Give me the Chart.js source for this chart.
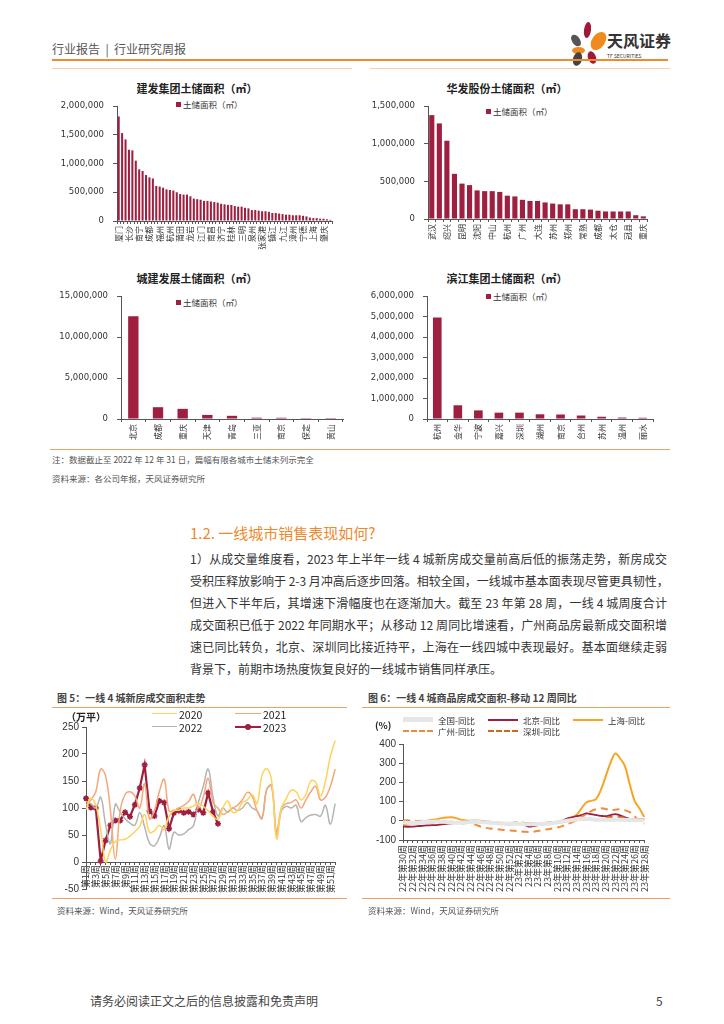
<!DOCTYPE html>
<html><head><meta charset="utf-8">
<script src="https://cdn.jsdelivr.net/npm/chart.js@4.4.1/dist/chart.umd.min.js"></script>
<style>
body{margin:0;width:724px;height:1024px;position:relative;background:#fff;font-family:"Noto Sans CJK SC",sans-serif;overflow:hidden;color:#333}
.a{position:absolute;white-space:nowrap}
.c{transform:translate(-50%,-50%)}
.l{transform:translateY(-50%)}
.box{position:absolute}
.hr{position:absolute;height:0}
.ct{font-size:11px;font-weight:bold;color:#222}
.lg{font-size:8.5px;color:#333}
.sq{display:inline-block;width:5px;height:5px;background:#9e1f3f;margin-right:2px;vertical-align:1px}
.para{position:absolute;left:190px;width:477px;font-size:12px;color:#333;text-align:justify;text-align-last:justify;white-space:nowrap}
.sw{position:absolute}
.lt{font-size:10.5px;color:#222}
</style>
</head><body>

<!-- header -->
<div class="a l" style="left:52px;top:48px;font-size:12px;color:#555">行业报告 &nbsp;|&nbsp; 行业研究周报</div>
<div class="a" style="left:584px;top:22px;width:7px;height:16px;border-radius:50%;background:#a0173a;transform:rotate(8deg)"></div>
<div class="a" style="left:592px;top:31px;width:13px;height:20px;border-radius:50%;background:#f08a1c;transform:rotate(35deg)"></div>
<div class="a" style="left:572px;top:34px;width:8px;height:13px;border-radius:50%;background:#555;transform:rotate(-35deg)"></div>
<div class="a" style="left:572px;top:47px;width:13px;height:7px;border-radius:50%;background:#f08a1c"></div>
<div class="a" style="left:573px;top:52px;width:9px;height:14px;border-radius:50%;background:#444;transform:rotate(15deg)"></div>
<div class="a" style="left:588px;top:51px;width:8px;height:13px;border-radius:50%;background:#a0173a;transform:rotate(-20deg)"></div>
<div class="a l" style="left:607px;top:40px;font-size:16px;font-weight:bold;color:#333">天风证券</div>
<div class="a l" style="left:607px;top:55px;font-size:5px;color:#333">TF SECURITIES</div>
<div class="hr" style="left:52px;top:59px;width:616px;border-top:2px solid #f08a2c"></div>
<div class="hr" style="left:52px;top:68px;width:300px;border-top:1px solid #f8cfae"></div>
<div class="hr" style="left:370px;top:68px;width:300px;border-top:1px solid #f8cfae"></div>

<!-- four bar charts -->
<div class="a c ct" style="left:197px;top:88px">建发集团土储面积（㎡）</div>
<div class="a l lg" style="left:176px;top:104px"><span class="sq"></span>土储面积（㎡）</div>
<div class="box" style="left:50px;top:92px;width:292px;height:168px"><canvas id="c1"></canvas></div>

<div class="a c ct" style="left:507px;top:88px">华发股份土储面积（㎡）</div>
<div class="a l lg" style="left:486px;top:111px"><span class="sq"></span>土储面积（㎡）</div>
<div class="box" style="left:360px;top:92px;width:295px;height:168px"><canvas id="c2"></canvas></div>

<div class="a c ct" style="left:197px;top:278px">城建发展土储面积（㎡）</div>
<div class="a l lg" style="left:176px;top:302px"><span class="sq"></span>土储面积（㎡）</div>
<div class="box" style="left:50px;top:282px;width:295px;height:162px"><canvas id="c3"></canvas></div>

<div class="a c ct" style="left:507px;top:278px">滨江集团土储面积（㎡）</div>
<div class="a l lg" style="left:486px;top:296px"><span class="sq"></span>土储面积（㎡）</div>
<div class="box" style="left:360px;top:282px;width:295px;height:162px"><canvas id="c4"></canvas></div>

<div class="hr" style="left:50px;top:449px;width:620px;border-top:1px solid #f0a060"></div>
<div class="a l" style="left:52px;top:459px;font-size:8.5px;color:#555">注：数据截止至 2022 年 12 年 31 日，篇幅有限各城市土储未列示完全</div>
<div class="a l" style="left:52px;top:478px;font-size:8.5px;color:#555">资料来源：各公司年报，天风证券研究所</div>

<!-- text -->
<div class="a l" style="left:190px;top:532px;font-size:15px;color:#f0892c">1.2. 一线城市销售表现如何?</div>
<div class="para l" style="top:558px">1）从成交量维度看，2023 年上半年一线 4 城新房成交量前高后低的振荡走势，新房成交</div>
<div class="para l" style="top:580px">受积压释放影响于 2-3 月冲高后逐步回落。相较全国，一线城市基本面表现尽管更具韧性，</div>
<div class="para l" style="top:602px">但进入下半年后，其增速下滑幅度也在逐渐加大。截至 23 年第 28 周，一线 4 城周度合计</div>
<div class="para l" style="top:624px">成交面积已低于 2022 年同期水平；从移动 12 周同比增速看，广州商品房最新成交面积增</div>
<div class="para l" style="top:646px">速已同比转负，北京、深圳同比接近持平，上海在一线四城中表现最好。基本面继续走弱</div>
<div class="para l" style="top:668px;text-align-last:left">背景下，前期市场热度恢复良好的一线城市销售同样承压。</div>

<!-- figure 5 -->
<div class="a l" style="left:57px;top:697px;font-size:10px;font-weight:bold;color:#444">图 5：一线 4 城新房成交面积走势</div>
<div class="hr" style="left:52px;top:707px;width:295px;border-top:1.5px solid #f0a060"></div>
<div class="box" style="left:50px;top:718px;width:297px;height:180px"><canvas id="c5"></canvas></div>
<div class="a l" style="left:66px;top:716px;font-size:10px;font-weight:bold;color:#222">（万平）</div>
<div class="sw" style="left:152px;top:713px;width:25px;border-top:1.5px solid #ffd25a"></div>
<div class="a l lt" style="left:179px;top:714px">2020</div>
<div class="sw" style="left:235px;top:713px;width:26px;border-top:1.5px solid #f5a77a"></div>
<div class="a l lt" style="left:263px;top:714px">2021</div>
<div class="sw" style="left:152px;top:726px;width:25px;border-top:1.5px solid #b4b4b4"></div>
<div class="a l lt" style="left:179px;top:727px">2022</div>
<div class="sw" style="left:235px;top:726px;width:26px;border-top:2.5px solid #9e1f3f"></div>
<div class="sw" style="left:245px;top:724px;width:6px;height:6px;border-radius:50%;background:#9e1f3f"></div>
<div class="a l lt" style="left:263px;top:727px">2023</div>
<div class="hr" style="left:52px;top:898px;width:295px;border-top:1.5px solid #f0a060"></div>
<div class="a l" style="left:57px;top:910px;font-size:8.5px;color:#555">资料来源：Wind，天风证券研究所</div>

<!-- figure 6 -->
<div class="a l" style="left:368px;top:697px;font-size:10px;font-weight:bold;color:#444">图 6：一线 4 城商品房成交面积-移动 12 周同比</div>
<div class="hr" style="left:362px;top:707px;width:308px;border-top:1.5px solid #f0a060"></div>
<div class="box" style="left:360px;top:735px;width:297px;height:165px"><canvas id="c6"></canvas></div>
<div class="a l" style="left:375px;top:725px;font-size:9.5px;font-weight:bold;color:#222">(%)</div>
<div class="sw" style="left:403px;top:717px;width:30px;height:5px;background:#e6e6e6"></div>
<div class="a l lg" style="left:438px;top:720px">全国-同比</div>
<div class="sw" style="left:488px;top:719px;width:30px;border-top:2px solid #9e1f3f"></div>
<div class="a l lg" style="left:523px;top:720px">北京-同比</div>
<div class="sw" style="left:573px;top:719px;width:30px;border-top:2px solid #f5a623"></div>
<div class="a l lg" style="left:608px;top:720px">上海-同比</div>
<div class="sw" style="left:403px;top:730px;width:30px;border-top:2px dashed #f08a3c"></div>
<div class="a l lg" style="left:438px;top:731px">广州-同比</div>
<div class="sw" style="left:488px;top:730px;width:30px;border-top:2px dashed #d2691e"></div>
<div class="a l lg" style="left:523px;top:731px">深圳-同比</div>
<div class="hr" style="left:362px;top:898px;width:308px;border-top:1.5px solid #f0a060"></div>
<div class="a l" style="left:368px;top:910px;font-size:8.5px;color:#555">资料来源：Wind，天风证券研究所</div>

<!-- footer -->
<div class="a l" style="left:90px;top:1000px;font-size:12px;color:#444">请务必阅读正文之后的信息披露和免责声明</div>
<div class="a l" style="left:656px;top:1000px;font-size:12px;color:#444">5</div>

<script>
// ---- data ----
const jfCities = ['厦门','漳州','泉州','长沙','福州','莆田','南宁','龙岩','三明','成都','宁德','南平','福州','上海','杭州','杭州','宁波','温州','莆田','苏州','无锡','龙岩','南京','合肥','江门','广州','佛山','南昌','九江','赣州','济宁','武汉','长沙','桂林','柳州','北海','三明','重庆','昆明','泉州','晋江','石狮','张家港','常州','嘉兴','镇江','扬州','绍兴','九江','上饶','湖州','漳州','龙海','东山','宁德','福安','霞浦','上海','金华','台州','肇庆','惠州','珠海'];
const jfArea = [1820000,1530000,1420000,1240000,1230000,1050000,900000,870000,800000,760000,
  740000,610000,600000,580000,550000,540000,530000,500000,470000,460000,
  460000,430000,390000,380000,370000,350000,350000,340000,330000,320000,
  300000,290000,280000,280000,260000,250000,250000,230000,220000,190000,
  190000,180000,170000,170000,160000,140000,140000,130000,120000,110000,
  110000,100000,100000,100000,90000,80000,60000,50000,50000,40000,
  40000,30000,20000];

const hfCities = ['武汉','珠海','绍兴','上海','昆明','南京','沈阳','西安','中山','天津','杭州','北京','广州','青岛','大连','南宁','苏州','无锡','郑州','惠州','常熟','合肥','成都','威海','太仓','江门','冠县','重庆','重庆'];
const hfArea = [1380000,1270000,1040000,600000,470000,450000,380000,370000,370000,360000,
  310000,300000,255000,240000,240000,220000,205000,195000,195000,130000,
  130000,125000,110000,100000,100000,100000,100000,50000,35000];

const cjCities = ['北京','成都','重庆','天津','青岛','三亚','南京','保定','黄山'];
const cjArea = [12550000,1440000,1240000,500000,390000,160000,150000,15000,10000];

const bjCities = ['杭州','金华','宁波','嘉兴','深圳','湖州','南京','台州','苏州','温州','丽水'];
const bjArea = [4950000,670000,420000,310000,310000,230000,220000,170000,110000,70000,60000];

const weeks = ['第1周','第2周','第3周','第4周','第5周','第6周','第7周','第8周','第9周','第10周',
  '第11周','第12周','第13周','第14周','第15周','第16周','第17周','第18周','第19周','第20周',
  '第21周','第22周','第23周','第24周','第25周','第26周','第27周','第28周','第29周','第30周',
  '第31周','第32周','第33周','第34周','第35周','第36周','第37周','第38周','第39周','第40周',
  '第41周','第42周','第43周','第44周','第45周','第46周','第47周','第48周','第49周','第50周',
  '第51周','第52周'];
const y2020 = [97,118,105,60,0,22,38,41,42,48,56,66,88,55,58,68,60,85,95,96,100,100,104,108,103,95,85,79,100,113,92,95,110,115,125,108,160,173,150,43,100,118,133,130,115,125,150,148,122,150,195,225];
const y2021 = [105,115,130,172,160,95,5,95,125,130,122,100,145,80,95,130,153,95,95,100,105,112,125,100,120,155,110,100,88,93,100,105,115,129,122,95,82,135,140,55,100,108,110,115,100,115,130,140,115,120,140,172];
const y2022 = [112,108,100,120,70,34,107,92,80,72,68,91,65,35,30,45,67,24,55,50,52,60,67,110,140,172,120,85,100,92,100,95,100,110,100,95,80,135,142,50,95,103,100,105,75,82,87,88,85,105,70,108];
const y2023 = [118,101,100,2,40,68,77,77,92,84,106,137,180,94,85,113,110,62,91,95,91,93,88,97,91,128,93,71];

const yoyWeeks = ['22年第30周','22年第31周','22年第32周','22年第33周','22年第34周','22年第35周','22年第36周','22年第37周',
  '22年第38周','22年第39周','22年第40周','22年第41周','22年第42周','22年第43周','22年第44周','22年第45周',
  '22年第46周','22年第47周','22年第48周','22年第49周','22年第50周','22年第51周','22年第52周',
  '23年第1周','23年第2周','23年第3周','23年第4周','23年第5周','23年第6周','23年第7周','23年第8周',
  '23年第9周','23年第10周','23年第11周','23年第12周','23年第13周','23年第14周','23年第15周','23年第16周',
  '23年第17周','23年第18周','23年第19周','23年第20周','23年第21周','23年第22周','23年第23周','23年第24周',
  '23年第25周','23年第26周','23年第27周','23年第28周'];
const yoyNation = [-8,-10,-12,-10,-8,-6,-5,-4,-5,-6,-8,-10,-10,-8,-6,-5,-6,-8,-10,-12,-14,-15,-15,
  -15,-16,-17,-18,-18,-17,-16,-15,-12,-8,-4,0,4,8,10,10,8,6,5,5,5,6,6,5,4,3,3,3];
const yoyBeijing = [-30,-31,-30,-28,-26,-24,-23,-22,-19,-16,-13,-10,-8,-4,0,1,0,-4,-8,-12,-15,-17,-18,
  -17,-14,-20,-30,-28,-22,-18,-15,-12,-7,0,12,18,24,30,38,35,30,26,24,30,35,28,18,10,6,8,9];
const yoyShanghai = [-24,-20,-15,-10,-5,0,5,8,14,17,18,14,6,2,0,-1,0,-3,-5,-8,-10,-11,-12,
  -13,-15,-14,-12,-13,-15,-14,-12,-10,-6,0,8,18,32,65,95,104,113,160,230,300,350,325,285,190,105,65,20];
const yoyGuangzhou = [-15,-10,-5,-2,0,-3,-6,-8,-10,-10,-10,-8,-5,-8,-12,-20,-30,-36,-40,-43,-45,-48,-50,
  -52,-55,-57,-58,-57,-52,-48,-44,-40,-35,-28,-18,-8,5,20,35,50,60,65,62,55,58,60,55,45,25,-5,-15];
const yoyShenzhen = [0,2,-3,-5,-8,-10,-8,-6,-5,-8,-10,-12,-15,-12,-8,-5,-3,-5,-10,-12,-15,-15,-12,
  -10,-8,-10,-15,-18,-15,-12,-10,-8,-5,-2,0,2,3,5,8,10,8,10,15,20,22,20,15,10,8,5,8];

// ---- charts ----
Chart.defaults.animation = false;
Chart.defaults.font.family = '"Liberation Sans","Noto Sans CJK SC",sans-serif';
Chart.defaults.color = '#333';
Chart.defaults.plugins.legend.display = false;
Chart.defaults.plugins.tooltip.enabled = false;

const AX = '#555';
const BAR = '#9e1f3f';

function landBars(id, labels, values, max, step, every, yW, xH, pad, barPct) {
    new Chart(document.getElementById(id), {
        type: 'bar',
        data: { labels: labels, datasets: [{ data: values, backgroundColor: BAR, barPercentage: barPct, categoryPercentage: 1 }] },
        options: {
            responsive: true,
            maintainAspectRatio: false,
            layout: { padding: pad },
            scales: {
                x: {
                    ticks: { autoSkip: false, minRotation: 90, maxRotation: 90, padding: 2, font: { size: 8, family: '"Noto Sans CJK SC"' },
                        callback: (v, i) => i % every === 0 ? labels[i] : '' },
                    grid: { drawOnChartArea: false, tickLength: 3, color: AX },
                    border: { color: AX },
                    afterFit: s => { s.height = xH; }
                },
                y: {
                    min: 0, max: max,
                    ticks: { stepSize: step, padding: 9, font: { size: 8.5, family: '"DejaVu Sans"' }, callback: v => v.toLocaleString('en-US') },
                    grid: { drawOnChartArea: false, tickLength: 4, color: AX },
                    border: { color: AX },
                    afterFit: s => { s.width = yW; }
                }
            }
        }
    });
}

landBars('c1', jfCities, jfArea, 2000000, 500000, 3, 67, 39, { top: 10, right: 5 }, 0.6);
landBars('c2', hfCities, hfArea, 1500000, 500000, 2, 68, 41, { top: 10, right: 5 }, 0.68);
landBars('c3', cjCities, cjArea, 15000000, 5000000, 1, 71, 25, { top: 9, right: 2 }, 0.42);
landBars('c4', bjCities, bjArea, 6000000, 1000000, 1, 67, 25, { top: 9, right: 2 }, 0.42);

function smooth(data, color, width) {
    return { data: data, borderColor: color, borderWidth: width, pointRadius: 0, tension: 0.4, fill: false };
}

new Chart(document.getElementById('c5'), {
    type: 'line',
    data: {
        labels: weeks,
        datasets: [
            smooth(y2020, '#ffd25a', 1.5),
            smooth(y2021, '#f5a77a', 1.5),
            smooth(y2022, '#b4b4b4', 1.5),
            { data: y2023, borderColor: BAR, backgroundColor: BAR, borderWidth: 2.2, tension: 0,
              pointStyle: 'star', pointRadius: 3, pointBorderWidth: 1.5, pointBorderColor: BAR }
        ]
    },
    options: {
        responsive: true,
        maintainAspectRatio: false,
        layout: { padding: { top: 7, right: 4, bottom: 9 } },
        scales: {
            x: {
                position: { y: 0 },
                offset: false,
                ticks: { autoSkip: false, minRotation: 90, maxRotation: 90, padding: 1, font: { size: 9, family: '"Noto Sans CJK SC"' },
                    callback: (v, i) => i % 2 === 0 ? weeks[i] : '' },
                grid: { drawOnChartArea: false, tickLength: 2, color: AX },
                border: { color: AX }
            },
            y: {
                min: -50, max: 250,
                ticks: { stepSize: 50, font: { size: 10 } },
                grid: { drawOnChartArea: false, tickLength: 4, color: AX },
                border: { color: AX },
                afterFit: s => { s.width = 36; }
            }
        }
    }
});

function yoyLine(data, color, width, dash) {
    return { data: data, borderColor: color, borderWidth: width, borderDash: dash || [], pointRadius: 0, tension: 0.4, fill: false };
}

new Chart(document.getElementById('c6'), {
    type: 'line',
    data: {
        labels: yoyWeeks,
        datasets: [
            yoyLine(yoyNation, '#e6e6e6', 4),
            yoyLine(yoyGuangzhou, '#f08a3c', 2, [7, 5]),
            yoyLine(yoyShenzhen, '#d2691e', 2, [7, 5]),
            yoyLine(yoyBeijing, BAR, 1.8),
            yoyLine(yoyShanghai, '#f5a623', 2)
        ]
    },
    options: {
        responsive: true,
        maintainAspectRatio: false,
        layout: { padding: { top: 7, right: 6 } },
        scales: {
            x: {
                offset: false,
                ticks: { autoSkip: false, minRotation: 90, maxRotation: 90, padding: 2, font: { size: 9, family: '"Noto Sans CJK SC"' },
                    callback: (v, i) => i % 2 === 0 ? yoyWeeks[i] : '' },
                grid: { drawOnChartArea: false, tickLength: 3, color: AX },
                border: { color: AX },
                afterFit: s => { s.height = 60; }
            },
            y: {
                min: -100, max: 400,
                ticks: { stepSize: 100, font: { size: 10 } },
                grid: { drawOnChartArea: false, tickLength: 4, color: AX },
                border: { color: AX },
                afterFit: s => { s.width = 43; }
            }
        }
    }
});
</script>
</body></html>
